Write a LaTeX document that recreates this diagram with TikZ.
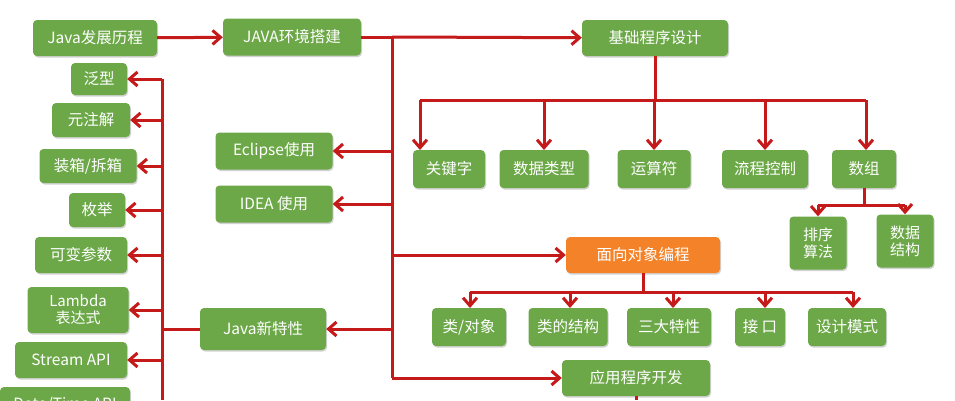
\documentclass[tikz,border=0pt]{standalone}
\usepackage{fontspec}
\setmainfont{Noto Sans CJK SC}
\usetikzlibrary{arrows.meta,shadows}
\definecolor{boxgreen}{RGB}{108,168,72}
\definecolor{boxorange}{RGB}{243,130,40}
\definecolor{linered}{RGB}{196,26,26}
\tikzset{
  topic/.style={draw=none, fill=boxgreen, text=white, rounded corners=4pt,
    font=\fontsize{15.5}{17}\selectfont, inner sep=0pt, align=center,
    drop shadow={shadow xshift=1pt, shadow yshift=-1.5pt, opacity=0.35}},
  hot/.style={topic, fill=boxorange},
  link/.style={draw=linered, line width=3pt, -{Straight Barb[length=8pt,width=14pt,line width=3pt]}},
  bus/.style={draw=linered, line width=3pt}
}
\begin{document}
\begin{tikzpicture}[x=1pt,y=-1pt]
  \useasboundingbox (0,0) rectangle (955,400);
  \clip (0,0) rectangle (955,400);
  \fill[white] (0,0) rectangle (955,400);

  % main row
  \node[topic, minimum width=124pt, minimum height=36pt] (hist) at (95,38) {Java发展历程};
  \node[topic, minimum width=138pt, minimum height=37pt] (env) at (292,37) {JAVA环境搭建};
  \node[topic, minimum width=146pt, minimum height=36pt] (basic) at (655,38) {基础程序设计};

  % tools and new features
  \node[topic, minimum width=117pt, minimum height=37pt] (eclipse) at (274,151) {Eclipse使用};
  \node[topic, minimum width=117pt, minimum height=37pt] (idea) at (274,204) {IDEA 使用};
  \node[topic, minimum width=126pt, minimum height=42pt] (newfeat) at (263,329) {Java新特性};

  % feature list
  \node[topic, minimum width=56pt, minimum height=32pt] (generic) at (99,79) {泛型};
  \node[topic, minimum width=78pt, minimum height=34pt] (annot) at (91,120) {元注解};
  \node[topic, minimum width=97pt, minimum height=34pt] (boxing) at (88,166) {装箱/拆箱};
  \node[topic, minimum width=56pt, minimum height=34pt] (enumb) at (97,210) {枚举};
  \node[topic, minimum width=92pt, minimum height=36pt] (varargs) at (81,255) {可变参数};
  \node[topic, minimum width=101pt, minimum height=46pt, font=\fontsize{15}{17}\selectfont] (lambda) at (78,310) {Lambda\\表达式};
  \node[topic, minimum width=112pt, minimum height=36pt] (stream) at (71,360) {Stream API};
  \node[topic, minimum width=130pt, minimum height=36pt] (datetime) at (65,405) {Date/Time API};

  % basics
  \node[topic, minimum width=72pt, minimum height=38pt] (keyword) at (449,169) {关键字};
  \node[topic, minimum width=89pt, minimum height=38pt] (dtype) at (544,169) {数据类型};
  \node[topic, minimum width=73pt, minimum height=38pt] (oper) at (654,169) {运算符};
  \node[topic, minimum width=86pt, minimum height=38pt] (flow) at (765,169) {流程控制};
  \node[topic, minimum width=64pt, minimum height=38pt] (array) at (864,169) {数组};
  \node[topic, minimum width=57pt, minimum height=53pt, font=\fontsize{15}{17}\selectfont] (sorting) at (818,243) {排序\\算法};
  \node[topic, minimum width=57pt, minimum height=53pt, font=\fontsize{15}{17}\selectfont] (struct) at (905,241) {数据\\结构};

  % object oriented
  \node[hot, minimum width=154pt, minimum height=36pt] (oop) at (643,255) {面向对象编程};
  \node[topic, minimum width=74pt, minimum height=38pt] (cls) at (469,327) {类/对象};
  \node[topic, minimum width=79pt, minimum height=38pt] (clsbody) at (568,327) {类的结构};
  \node[topic, minimum width=84pt, minimum height=38pt] (three) at (669,327) {三大特性};
  \node[topic, minimum width=50pt, minimum height=38pt] (iface) at (760,327) {接 口};
  \node[topic, minimum width=78pt, minimum height=38pt] (pattern) at (847,327) {设计模式};
  \node[topic, minimum width=148pt, minimum height=36pt] (app) at (636,378) {应用程序开发};

  % trunk from environment
  \coordinate (trunk) at (392,37);
  \draw[link] (hist) -- (env);
  \draw[bus] (env.east) -- (trunk) -- (392,378);
  \draw[link] (trunk) -- (basic);
  \foreach \n in {eclipse, idea, newfeat}
    \draw[link] (392,0 |- \n) -- (\n);
  \foreach \n in {oop, app}
    \draw[link] (392,0 |- \n) -- (\n);

  % new features list
  \draw[bus] (newfeat.west) -- (162,329);
  \draw[bus] (162,79) -- (162,400);
  \foreach \n in {generic, annot, boxing, enumb, varargs, lambda, stream}
    \draw[link] (162,0 |- \n) -- (\n);

  % basics bus
  \draw[bus] (basic.south) -- (basic.south |- 0,100);
  \draw[bus] (420,100) -- (866,100);
  \draw[link] (420,100) -- (420,150);
  \foreach \n/\x in {dtype/544, oper/654, flow/765, array/866}
    \draw[link] (\x,100) -- (\x,150);
  \draw[bus] (array.south) -- (array.south |- 0,205);
  \draw[bus] (818,205) -- (905,205);
  \draw[link] (818,205) -- (sorting.north);
  \draw[link] (905,205) -- (struct.north);

  % oop bus
  \draw[bus] (oop.south) -- (oop.south |- 0,292);
  \draw[bus] (470,292) -- (853,292);
  \foreach \n/\x in {cls/470, clsbody/570, three/673, iface/765, pattern/853}
    \draw[link] (\x,292) -- (\x,308);
  \draw[bus] (app.south) -- (app.south |- 0,400);
\end{tikzpicture}
\end{document}
